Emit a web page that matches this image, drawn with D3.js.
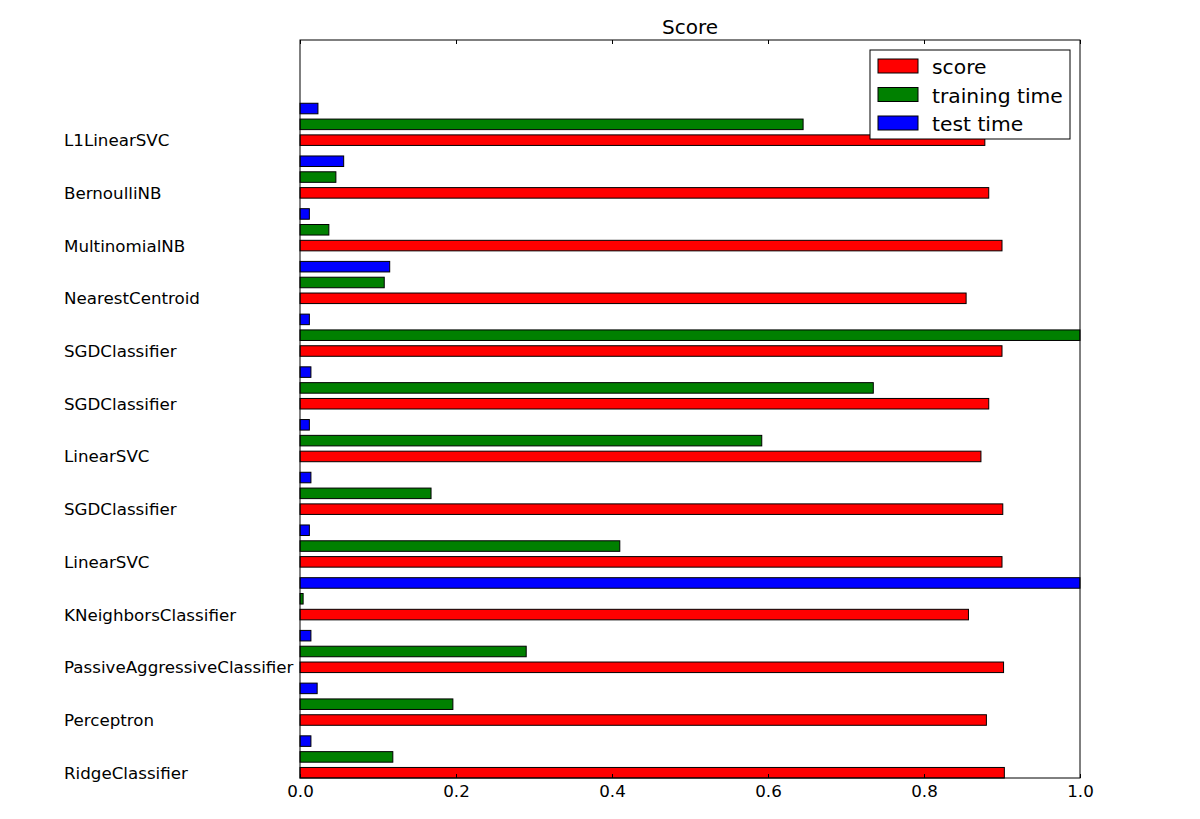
<!DOCTYPE html>
<html><head><meta charset="utf-8">
<script src="https://cdn.jsdelivr.net/npm/d3@7"></script>
<style>body{margin:0;background:#fff}text{font-family:"DejaVu Sans",sans-serif}</style>
</head><body><svg id="c" width="1200" height="819"></svg>
<script>
const categories = ["RidgeClassifier","Perceptron","PassiveAggressiveClassifier","KNeighborsClassifier","LinearSVC","SGDClassifier","LinearSVC","SGDClassifier","SGDClassifier","NearestCentroid","MultinomialNB","BernoulliNB","L1LinearSVC"];
const score =        [0.903,0.880,0.902,0.857,0.900,0.901,0.873,0.883,0.900,0.854,0.900,0.883,0.878];
const trainingTime = [0.119,0.196,0.290,0.004,0.410,0.168,0.592,0.735,1.000,0.108,0.037,0.046,0.645];
const testTime =     [0.014,0.022,0.014,1.000,0.012,0.014,0.012,0.014,0.012,0.115,0.012,0.056,0.023];
const xTicks = [0,0.2,0.4,0.6,0.8,1.0];
const seriesNames = ["score","training time","test time"];
const seriesColors = ["#ff0000","#008000","#0000ff"];
const seriesOffsets = [0,0.3,0.6];

const svg = d3.select("#c");
const L=300,R=1080,T=40,B=778;
const x = d3.scaleLinear().domain([0,1]).range([L,R]);
const y = d3.scaleLinear().domain([-0.1,13.9]).range([B,T]);
const series=[score,trainingTime,testTime];
const g = svg.append("g");
series.forEach((vals,si)=>{
  g.selectAll(null).data(vals).enter().append("rect")
   .attr("x",x(0)).attr("width",d=>x(d)-x(0))
   .attr("y",(d,i)=>y(i+seriesOffsets[si]+0.1))
   .attr("height",(d,i)=>y(i+seriesOffsets[si]-0.1)-y(i+seriesOffsets[si]+0.1))
   .attr("fill",seriesColors[si]).attr("stroke","#000").attr("stroke-width",1);
});
// frame
svg.append("rect").attr("x",L).attr("y",T).attr("width",R-L).attr("height",B-T).attr("fill","none").attr("stroke","#000").attr("stroke-width",1);
// x axis bottom ticks inside
const ax = d3.axisBottom(x).tickValues(xTicks).tickFormat(d3.format(".1f")).tickSizeInner(-4).tickSizeOuter(0).tickPadding(7);
const axg = svg.append("g").attr("transform",`translate(0,${B})`).call(ax);
axg.select(".domain").remove();
axg.selectAll("text").attr("font-size",16.7).attr("font-family","DejaVu Sans").attr("fill","#000");
axg.selectAll("line").attr("stroke","#000");
const axt = d3.axisTop(x).tickValues(xTicks).tickFormat("").tickSizeInner(-4).tickSizeOuter(0);
const axtg = svg.append("g").attr("transform",`translate(0,${T})`).call(axt);
axtg.select(".domain").remove();
axtg.selectAll("line").attr("stroke","#000");
// category labels
svg.selectAll(null).data(categories).enter().append("text")
  .attr("x",64).attr("y",(d,i)=>y(i)+6).attr("font-size",16.7).text(d=>d);
// title
svg.append("text").attr("x",(L+R)/2).attr("y",34).attr("text-anchor","middle").attr("font-size",20).text("Score");
// legend
const lg = svg.append("g");
lg.append("rect").attr("x",870).attr("y",50).attr("width",200).attr("height",89).attr("fill","#fff").attr("stroke","#000");
seriesNames.forEach((n,i)=>{
  lg.append("rect").attr("x",878).attr("y",59+i*28.5).attr("width",40).attr("height",14).attr("fill",seriesColors[i]).attr("stroke","#000");
  lg.append("text").attr("x",932).attr("y",74+i*28.5).attr("font-size",20.3).text(n);
});
</script></body></html>
